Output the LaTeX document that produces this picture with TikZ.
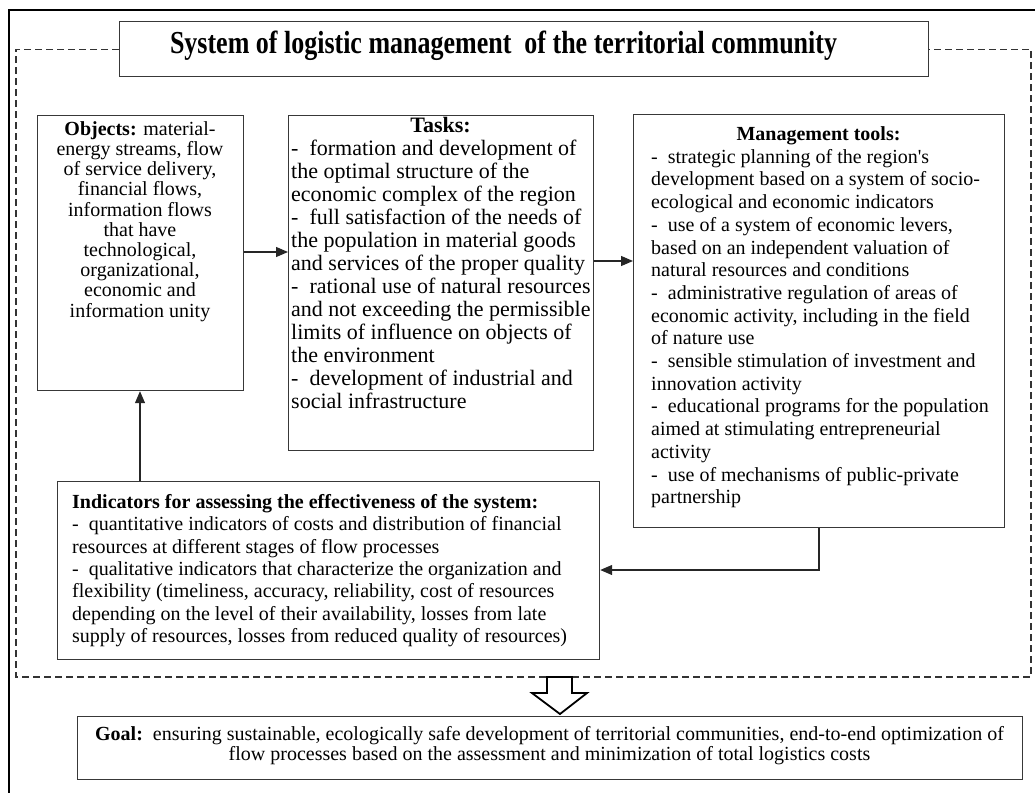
\documentclass[tikz,border=0pt]{standalone}
\usepackage{graphicx}
\usepackage{fontspec}
\setmainfont{Liberation Serif}
\usetikzlibrary{arrows.meta,calc}
\newcommand\mydash{-\ \ }
\begin{document}
\begin{tikzpicture}[x=1pt,y=-1pt,
  box/.style={draw=black!78, line width=1.2pt, inner sep=0pt, anchor=north west},
  bodytxt/.style={inner sep=0pt, anchor=north west, align=left},
  headtxt/.style={inner sep=0pt, anchor=base, font=\fontsize{20}{20}\selectfont\bfseries},
  arr/.style={line width=1.2pt, draw=black!85, -{Triangle[length=12pt,width=10pt]}},
  frameline/.style={draw=black!80, line width=1.1pt, dash pattern=on 7pt off 4pt},
  ]
\useasboundingbox (0,0) rectangle (1035,792);
% outer frame
\draw[line width=2.2pt] (9,800) -- (9,10) -- (1040,10);

% boxes
\node[box, minimum width=809pt, minimum height=55pt] (title) at (119,21) {};
\node[box, minimum width=206pt, minimum height=275pt] (obj) at (37,115) {};
\node[box, minimum width=305pt, minimum height=335pt] (tasks) at (288,115) {};
\node[box, minimum width=371pt, minimum height=413pt] (mt) at (633,114) {};
\node[box, minimum width=542pt, minimum height=178pt] (ind) at (57,481) {};
\node[box, minimum width=945pt, minimum height=63pt] (goal) at (77,716) {};

% dashed frame
\coordinate (dl) at (16,677);
\coordinate (dr) at (1031,677);
\draw[frameline] (title.west) -| (dl) -- (dr) |- (title.east);

% title
\node[inner sep=0pt, anchor=base] (titletext) at (503.5,53)
  {\resizebox{667pt}{\height}{\fontsize{32}{32}\selectfont\bfseries System of logistic management\ \ of the territorial community}};

% objects
\node[inner sep=0pt, anchor=north, align=center, font=\fontsize{20}{20.2}\selectfont] (objtext) at (140,121.3)
 {\textbf{Objects:} material-\\energy streams, flow\\of service delivery,\\financial flows,\\information flows\\that have\\technological,\\organizational,\\economic and\\information unity};

% tasks
\node[headtxt, font=\fontsize{22}{22}\selectfont\bfseries] (taskshead) at (440.5,132) {Tasks:};
\node[bodytxt, font=\fontsize{22}{23}\selectfont] (taskstext) at (291,139.5)
 {\mydash formation and development of\\the optimal structure of the\\economic complex of the region\\\mydash full satisfaction of the needs of\\the population in material goods\\and services of the proper quality\\\mydash rational use of natural resources\\and not exceeding the permissible\\limits of influence on objects of\\the environment\\\mydash development of industrial and\\social infrastructure};

% management tools
\node[headtxt] (mthead) at (818.5,140) {Management tools:};
\node[bodytxt, font=\fontsize{20}{22.7}\selectfont] (mttext) at (651,149)
 {\mydash strategic planning of the region\textquotesingle s\\development based on a system of socio-\\ecological and economic indicators\\\mydash use of a system of economic levers,\\based on an independent valuation of\\natural resources and conditions\\\mydash administrative regulation of areas of\\economic activity, including in the field\\of nature use\\\mydash sensible stimulation of investment and\\innovation activity\\\mydash educational programs for the population\\aimed at stimulating entrepreneurial\\activity\\\mydash use of mechanisms of public-private\\partnership};

% indicators
\node[bodytxt, font=\fontsize{20}{22.3}\selectfont] (indtext) at (72,494.3)
 {\textbf{Indicators for assessing the effectiveness of the system:}\\\mydash quantitative indicators of costs and distribution of financial\\resources at different stages of flow processes\\\mydash qualitative indicators that characterize the organization and\\flexibility (timeliness, accuracy, reliability, cost of resources\\depending on the level of their availability, losses from late\\supply of resources, losses from reduced quality of resources)};

% goal
\node[inner sep=0pt, anchor=north, align=center, font=\fontsize{20}{20}\selectfont] (goaltext) at (549.5,726.3)
 {\textbf{Goal:}\ \ ensuring sustainable, ecologically safe development of territorial communities, end-to-end optimization of\\flow processes based on the assessment and minimization of total logistics costs};

% connectors
\coordinate (yA) at (0,252);
\coordinate (yB) at (0,261);
\coordinate (xC) at (140,0);
\coordinate (xD) at (819,0);
\coordinate (yD) at (0,570);
\draw[arr] (obj.east |- yA) -- (tasks.west |- yA);
\draw[arr] (tasks.east |- yB) -- (mt.west |- yB);
\draw[arr] (ind.north -| xC) -- (obj.south -| xC);
\draw[arr] (mt.south -| xD) |- (ind.east |- yD);

% hollow arrow
\draw[line width=1.8pt, fill=white, line join=miter]
  (547,677) -- (572,677) -- (572,693) -- (587,693) -- (560,714) -- (532,693) -- (547,693) -- cycle;
\end{tikzpicture}
\end{document}
